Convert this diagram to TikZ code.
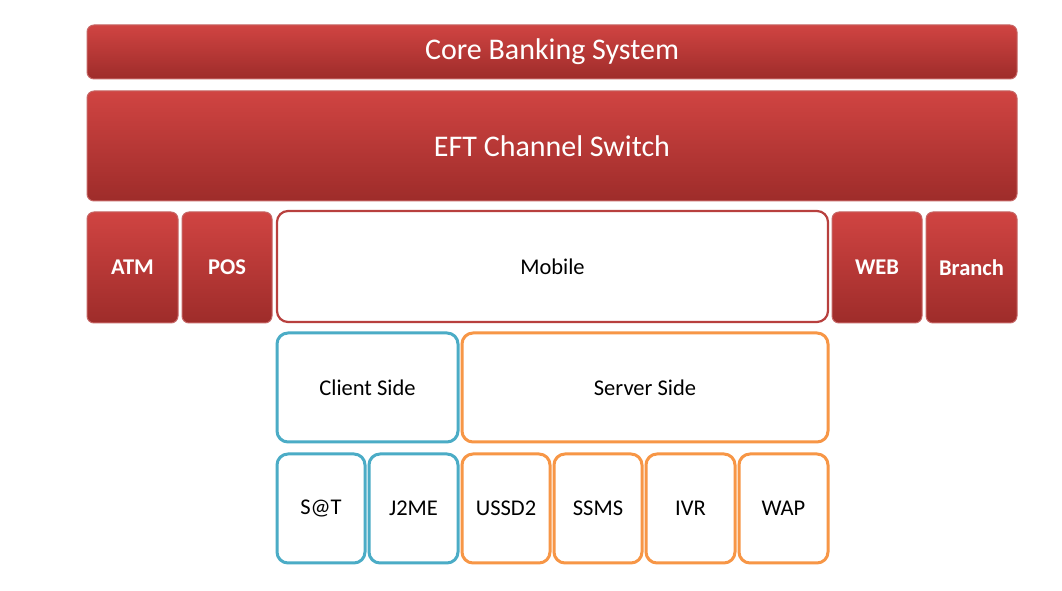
\documentclass[tikz,border=0pt]{standalone}
\usepackage{fontspec}
\setmainfont{Carlito}
\definecolor{redtop}{HTML}{D04442}
\definecolor{redbot}{HTML}{9E2C2A}
\definecolor{redline}{HTML}{B8403E}
\definecolor{oblue}{HTML}{4BACC6}
\definecolor{oorange}{HTML}{F79646}
\tikzset{
  redbox/.style={rounded corners=7pt, top color=redtop, bottom color=redbot, draw=redline!80!white, line width=1pt, text=white},
  mobilebox/.style={rounded corners=11pt, fill=white, draw=redline, line width=2.2pt},
  bluebox/.style={rounded corners=11pt, fill=white, draw=oblue, line width=3pt},
  orangebox/.style={rounded corners=11pt, fill=white, draw=oorange, line width=3pt},
  lbl/.style={font=\fontsize{22.5}{26}\selectfont},
  bigl/.style={text=white, font=\fontsize{30}{34}\selectfont},
  redl/.style={text=white, font=\fontsize{22.5}{26}\selectfont\bfseries},
}
\newcommand{\boxat}[6]{% style, name, x1, y1, x2, y2
  \draw[#1] (#3,591-#4) rectangle (#5,591-#6);
  \coordinate (#2) at ({(#3+#5)/2},{591-(#4+#6)/2});
}
\begin{document}
\begin{tikzpicture}[x=1pt,y=1pt]
\useasboundingbox (0,0) rectangle (1062,591);
\fill[white] (0,0) rectangle (1062,591);
\boxat{redbox}{core}{87}{25}{1017}{79}
\boxat{redbox}{eft}{87}{91}{1017}{201}
\boxat{redbox}{atm}{87}{212}{178}{323}
\boxat{redbox}{pos}{182}{212}{272}{323}
\boxat{mobilebox}{mob}{277}{211}{828}{322}
\boxat{redbox}{web}{832}{212}{922}{323}
\boxat{redbox}{branch}{926}{212}{1017}{323}
\boxat{bluebox}{cli}{277}{333}{458}{442}
\boxat{orangebox}{srv}{462}{333}{828}{442}
\boxat{bluebox}{sat}{277}{454}{365}{563}
\boxat{bluebox}{j2me}{369}{454}{458}{563}
\boxat{orangebox}{ussd}{462}{454}{550}{563}
\boxat{orangebox}{ssms}{554}{454}{642}{563}
\boxat{orangebox}{ivr}{646}{454}{735}{563}
\boxat{orangebox}{wap}{739}{454}{828}{563}
\node[bigl] (tcore) at (core) {Core Banking System};
\node[bigl] (teft) at (eft) {EFT Channel Switch};
\node[redl] (tatm) at (atm) {ATM};
\node[redl] (tpos) at (pos) {POS};
\node[lbl] (tmob) at (mob) {Mobile};
\node[redl] (tweb) at (web) {WEB};
\node[redl] (tbr) at (branch) {Branch};
\node[lbl] (tcli) at (cli) {Client Side};
\node[lbl] (tsrv) at (srv) {Server Side};
\node[lbl] (tsat) at (sat) {S@T};
\node[lbl] (tj2) at (j2me) {J2ME};
\node[lbl] (tus) at (ussd) {USSD2};
\node[lbl] (tss) at (ssms) {SSMS};
\node[lbl] (tivr) at (ivr) {IVR};
\node[lbl] (twap) at (wap) {WAP};
\end{tikzpicture}
\end{document}
